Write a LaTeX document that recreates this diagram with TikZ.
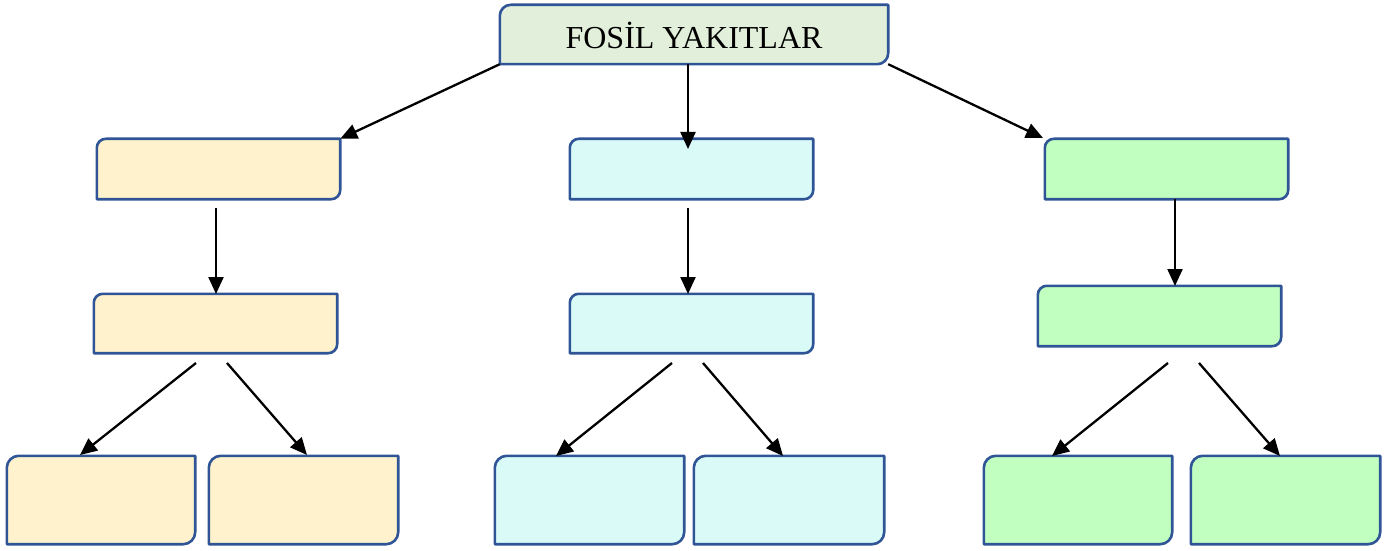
\documentclass[tikz,border=0pt]{standalone}
\usepackage{fontspec}
\setmainfont{Liberation Serif}
\usetikzlibrary{arrows.meta}
\definecolor{bordc}{HTML}{2F5597}
\definecolor{topc}{HTML}{E2EFDA}
\definecolor{yelc}{HTML}{FFF2CC}
\definecolor{cyac}{HTML}{DAFAF8}
\definecolor{grnc}{HTML}{C0FFC0}
\tikzset{
  holder/.style={rectangle,inner sep=0pt,minimum width=#1},
  shapebox/.style={draw=bordc,line width=2.6pt,line join=round},
  conn/.style={line width=2.3pt,-{Triangle[length=17pt,width=15pt]}},
}
\newcommand\diagshape[3]{\path[shapebox,fill=#2] (#1.north east) -- ([xshift=#3]#1.north west) arc[start angle=90,end angle=180,radius=#3] -- (#1.south west) -- ([xshift=-#3]#1.south east) arc[start angle=270,end angle=360,radius=#3] -- cycle;}
\begin{document}
\begin{tikzpicture}[x=1pt,y=1pt]
\useasboundingbox (0,0) rectangle (1397,550);
% nodes (y up: y' = 550 - y)
\node[holder=388pt,minimum height=59pt] (top) at (694,515.5) {};
\node[holder=243pt,minimum height=60pt] (l1) at (218.5,381) {};
\node[holder=243pt,minimum height=60pt] (m1) at (691.5,381) {};
\node[holder=243pt,minimum height=60pt] (r1) at (1166.5,381) {};
\node[holder=243pt,minimum height=59pt] (l2) at (215.5,226.5) {};
\node[holder=243pt,minimum height=59pt] (m2) at (691.5,226.5) {};
\node[holder=243pt,minimum height=60pt] (r2) at (1159.5,234) {};
\node[holder=188pt,minimum height=88pt] (la) at (101,50) {};
\node[holder=189pt,minimum height=88pt] (lb) at (303.5,50) {};
\node[holder=189pt,minimum height=88pt] (ma) at (589.5,50) {};
\node[holder=190pt,minimum height=88pt] (mb) at (789,50) {};
\node[holder=188pt,minimum height=88pt] (ra) at (1078,50) {};
\node[holder=189pt,minimum height=88pt] (rb) at (1285.5,50) {};
% shapes
\diagshape{top}{topc}{11pt}
\diagshape{l1}{yelc}{9pt}
\diagshape{l2}{yelc}{9pt}
\diagshape{la}{yelc}{12pt}
\diagshape{lb}{yelc}{12pt}
\diagshape{m1}{cyac}{9pt}
\diagshape{m2}{cyac}{9pt}
\diagshape{ma}{cyac}{12pt}
\diagshape{mb}{cyac}{12pt}
\diagshape{r1}{grnc}{9pt}
\diagshape{r2}{grnc}{9pt}
\diagshape{ra}{grnc}{12pt}
\diagshape{rb}{grnc}{12pt}
\node[font=\fontsize{32}{38}\selectfont] (title) at ([yshift=-1pt]top.center) {FOSİL YAKITLAR};
% connector coordinates
\coordinate (tm) at (688,486);
\coordinate (m1tip) at (688,401);
\coordinate (l1s) at (216,342);
\coordinate (m1s) at (688,342);
\coordinate (l2a) at (196,187);
\coordinate (l2b) at (227,187);
\coordinate (m2a) at (672,187);
\coordinate (m2b) at (703,187);
\coordinate (r2a) at (1168,187);
\coordinate (r2b) at (1199,187);
\coordinate (latip) at (80,95);
\coordinate (lbtip) at (307,95);
\coordinate (matip) at (556,94);
\coordinate (mbtip) at (783,94);
\coordinate (ratip) at (1052,94);
\coordinate (rbtip) at (1280,94);
\coordinate (r1s) at (1175,351);
\coordinate (r2tip) at (1175,264);
\coordinate (l2tip) at (216,256);
\coordinate (m2tip) at (688,256);
\coordinate (rtip) at (1043,412);
% connectors
\draw[conn] (top.south west) -- (l1.north east);
\draw[conn] (tm) -- (m1tip);
\draw[conn] (top.south east) -- (rtip);
\draw[conn] (l1s) -- (l2tip);
\draw[conn] (m1s) -- (m2tip);
\draw[conn] (r1s) -- (r2tip);
\draw[conn] (l2a) -- (latip);
\draw[conn] (l2b) -- (lbtip);
\draw[conn] (m2a) -- (matip);
\draw[conn] (m2b) -- (mbtip);
\draw[conn] (r2a) -- (ratip);
\draw[conn] (r2b) -- (rbtip);
\end{tikzpicture}
\end{document}
